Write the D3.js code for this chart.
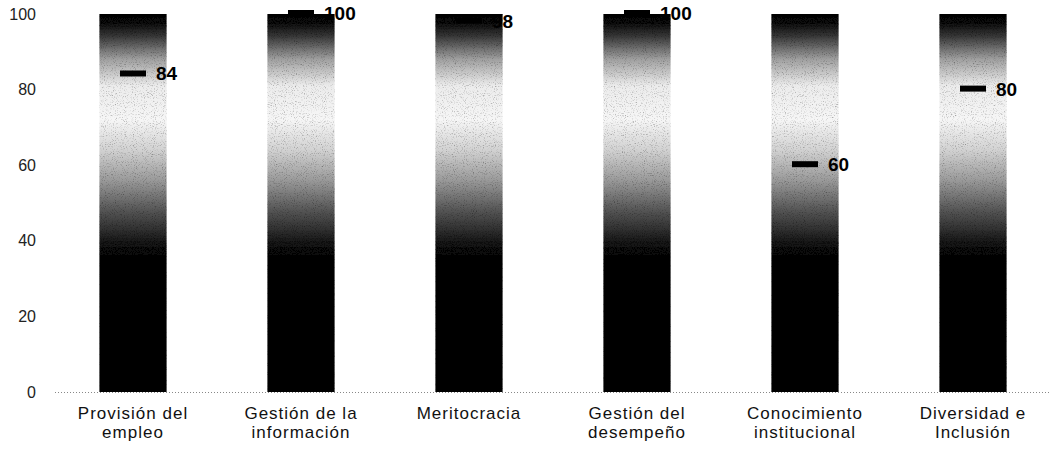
<!DOCTYPE html>
<html>
<head>
<meta charset="utf-8">
<script src="https://cdn.jsdelivr.net/npm/d3@7"></script>
<style>
  html, body { margin: 0; padding: 0; background: #fff; }
  svg { display: block; }
</style>
</head>
<body>
<svg id="chart" width="1050" height="449"></svg>
<script>
// Dimensiones evaluadas (etiquetas en dos líneas)
const categories = [
  ["Provisión del", "empleo"],
  ["Gestión de la", "información"],
  ["Meritocracia"],
  ["Gestión del", "desempeño"],
  ["Conocimiento", "institucional"],
  ["Diversidad e", "Inclusión"]
];
// Puntaje obtenido en cada dimensión (marcador negro)
const scores = [84, 100, 98, 100, 60, 80];
// Escala máxima de cada barra
const maxScale = [100, 100, 100, 100, 100, 100];
const yTicks = [0, 20, 40, 60, 80, 100];

const svg = d3.select("#chart");
const width = 1050, height = 449;
const margin = { top: 14, bottom: 57, left: 49, right: -7 };

const x = d3.scaleBand()
  .domain(d3.range(categories.length))
  .range([margin.left, width - margin.right])
  .paddingInner(0.6)
  .paddingOuter(0.3);

const y = d3.scaleLinear()
  .domain([0, 100])
  .range([height - margin.bottom, margin.top]);

// Degradado vertical de las barras
const defs = svg.append("defs");
const grad = defs.append("linearGradient")
  .attr("id", "barGrad")
  .attr("x1", 0).attr("y1", 0).attr("x2", 0).attr("y2", 1);
[
  [0.00, "#000"], [0.03, "#141414"], [0.06, "#3a3a3a"], [0.12, "#a0a0a0"], [0.19, "#ececec"],
  [0.28, "#f6f6f6"], [0.36, "#d2d2d2"], [0.44, "#9a9a9a"], [0.52, "#555"],
  [0.60, "#1a1a1a"], [0.65, "#000"], [1.00, "#000"]
].forEach(([o, c]) => grad.append("stop").attr("offset", o).attr("stop-color", c));

// Grano fino sobre las barras
const grain = defs.append("filter").attr("id", "grain")
  .attr("x", 0).attr("y", 0).attr("width", 1).attr("height", 1);
grain.append("feTurbulence").attr("type", "fractalNoise")
  .attr("baseFrequency", 0.9).attr("numOctaves", 2).attr("seed", 3).attr("result", "noise");
grain.append("feColorMatrix").attr("in", "noise").attr("type", "matrix")
  .attr("values", "0 0 0 0 0  0 0 0 0 0  0 0 0 0 0  0 0 0 -1.6 0.75").attr("result", "dots");
grain.append("feComposite").attr("in", "dots").attr("in2", "SourceGraphic")
  .attr("operator", "in").attr("result", "dotsIn");
grain.append("feMerge").selectAll("feMergeNode")
  .data(["SourceGraphic", "dotsIn"]).join("feMergeNode").attr("in", d => d);

// Línea base punteada
svg.append("line")
  .attr("x1", 55).attr("x2", width)
  .attr("y1", y(0) + 0.5).attr("y2", y(0) + 0.5)
  .attr("stroke", "#888").attr("stroke-width", 1)
  .attr("stroke-dasharray", "1,2");

// Eje Y
const yAxis = svg.append("g")
  .attr("transform", `translate(${margin.left - 13},0)`)
  .call(d3.axisLeft(y).tickValues(yTicks).tickSize(0).tickPadding(0));
yAxis.select(".domain").remove();
yAxis.selectAll("text")
  .attr("font-family", "Liberation Sans, Arial, sans-serif")
  .attr("font-size", 16)
  .attr("fill", "#222");

// Barras
svg.append("g").selectAll("rect")
  .data(maxScale)
  .join("rect")
  .attr("x", (d, i) => x(i))
  .attr("y", d => y(d))
  .attr("width", x.bandwidth())
  .attr("height", d => y(0) - y(d))
  .attr("fill", "url(#barGrad)")
  .attr("filter", "url(#grain)");

// Marcadores del puntaje
const mw = 26, mh = 6;
svg.append("g").selectAll("rect")
  .data(scores)
  .join("rect")
  .attr("x", (d, i) => x(i) + x.bandwidth() / 2 - mw / 2)
  .attr("y", d => y(d) - mh / 2 - 1)
  .attr("width", mw)
  .attr("height", mh)
  .attr("fill", "#000");

// Etiquetas del puntaje
svg.append("g").selectAll("text")
  .data(scores)
  .join("text")
  .attr("x", (d, i) => x(i) + x.bandwidth() / 2 + mw / 2 + 10)
  .attr("y", d => y(d) + 6)
  .attr("font-family", "Liberation Sans, Arial, sans-serif")
  .attr("font-weight", "bold")
  .attr("font-size", 19)
  .attr("fill", "#000")
  .text(d => d);

// Etiquetas de categoría
const xAxis = svg.append("g");
categories.forEach((lines, i) => {
  const t = xAxis.append("text")
    .attr("x", x(i) + x.bandwidth() / 2)
    .attr("y", 419)
    .attr("text-anchor", "middle")
    .attr("font-family", "Liberation Sans, Arial, sans-serif")
    .attr("font-size", 17)
    .attr("letter-spacing", 1)
    .attr("fill", "#111");
  lines.forEach((ln, j) => {
    t.append("tspan")
      .attr("x", x(i) + x.bandwidth() / 2)
      .attr("dy", j === 0 ? 0 : 19)
      .text(ln);
  });
});
</script>
</body>
</html>
